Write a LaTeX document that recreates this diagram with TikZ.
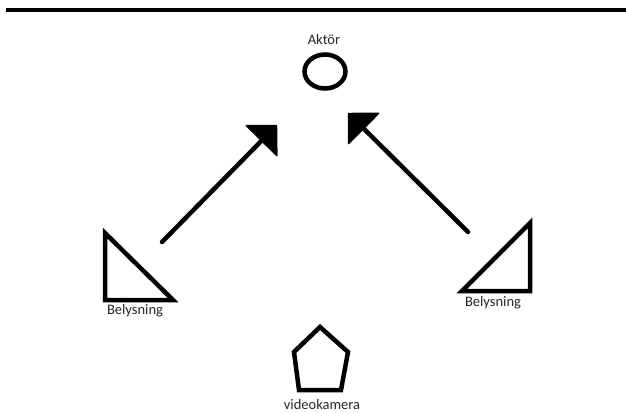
\documentclass[tikz,border=0pt]{standalone}
\usepackage{fontspec}
\setmainfont{Carlito}
\usetikzlibrary{arrows.meta}

\begin{document}
\begin{tikzpicture}[x=1pt,y=-1pt,line width=4.5pt,
    etikett/.style={font=\fontsize{14.5}{16}\selectfont,text=black!85},
    pil/.style={line cap=round,-{Triangle[length=23pt,width=46pt,round,line width=1.5pt]}}]
  \useasboundingbox (0,0) rectangle (626,412);
  % scen
  \draw [line width=4pt] (6,10.5) -- (626,10.5);
  % aktör
  \draw (325,71.5) ellipse [x radius=20.5, y radius=17];
  \node[etikett] (aktor) at (324,40) {Aktör};
  % belysning
  \draw (105,233) -- (105,300) -- (173,300) -- cycle;
  \node[etikett] (ljusV) at (135,311) {Belysning};
  \draw (530,223) -- (530,291) -- (462,291) -- cycle;
  \node[etikett] (ljusH) at (493,303) {Belysning};
  % kamera
  \draw (320,327) -- (348,352) -- (341,390) -- (299,390) -- (294,352) -- cycle;
  \node[etikett] (kamera) at (322,404.5) {videokamera};
  % ljusriktning
  \coordinate (vStart) at (162,242);
  \coordinate (vMal) at (277,125);
  \coordinate (hStart) at (468,232);
  \coordinate (hMal) at (348,113);
  \draw [pil] (vStart) -- (vMal);
  \draw [pil] (hStart) -- (hMal);
\end{tikzpicture}
\end{document}
